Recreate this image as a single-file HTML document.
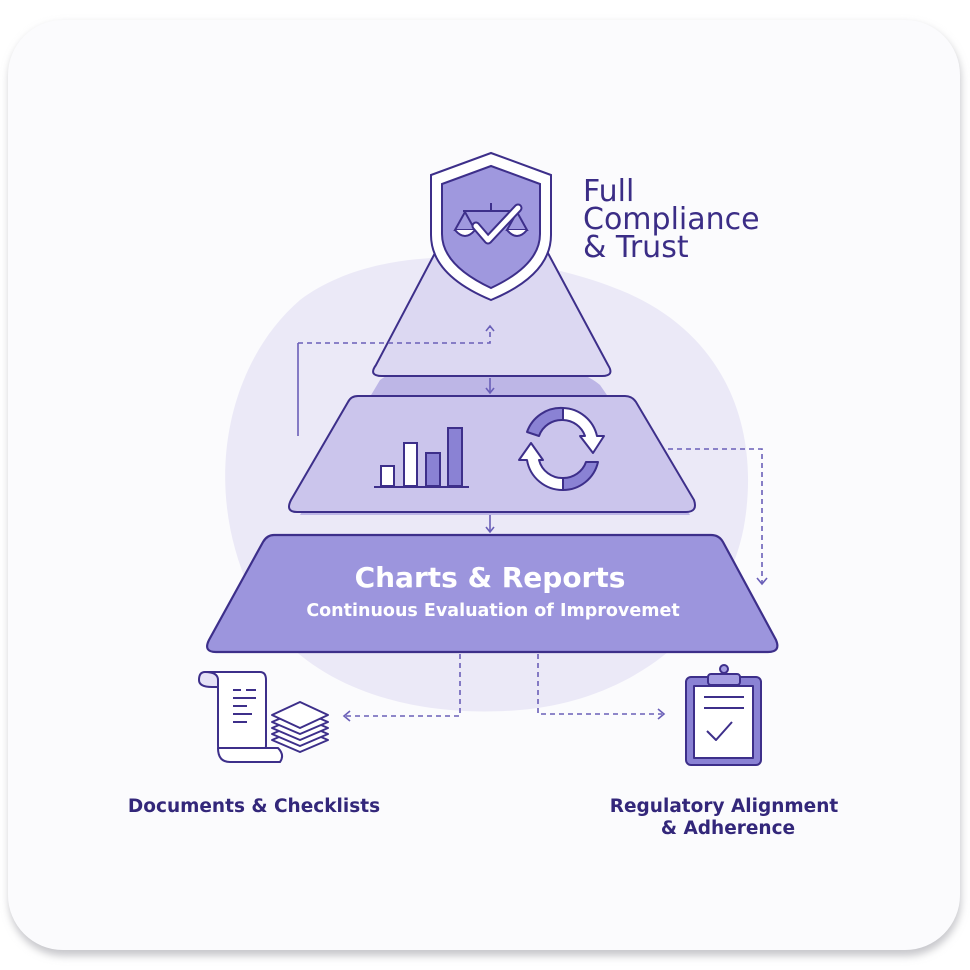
<!DOCTYPE html>
<html><head><meta charset="utf-8"><style>
html,body{margin:0;padding:0;background:#fff;width:970px;height:970px;overflow:hidden}
text{font-family:"DejaVu Sans","Liberation Sans",sans-serif}
</style></head><body>
<svg width="970" height="970" viewBox="0 0 970 970" xmlns="http://www.w3.org/2000/svg">
<defs>
<filter id="sh" x="-5%" y="-5%" width="110%" height="110%"><feGaussianBlur stdDeviation="4"/></filter>
</defs>
<rect x="9" y="24" width="952" height="932" rx="55" fill="#c8c8cc" filter="url(#sh)"/>
<rect x="8" y="20" width="952" height="930" rx="55" fill="#fbfbfd"/>
<!-- blob -->
<path d="M300,300 C380,240 520,250 620,290 C720,330 760,420 745,520 C730,620 640,700 520,710 C400,720 290,680 250,590 C200,480 230,360 300,300 Z" fill="#ebe9f7"/>
<path d="M380,380 C420,350 560,350 600,385 L690,515 L300,515 Z" fill="#bdb6e6"/>
<!-- top triangle -->
<path d="M484,160 Q491,150 498,160 L608,365 Q615,376 602,376 L382,376 Q368,376 376,365 Z" fill="#dcd8f2" stroke="#3d2f8a" stroke-width="2"/>
<!-- middle trapezoid -->
<path d="M358,396 L625,396 Q632,396 636,402 L694,500 Q698,512 686,512 L297,512 Q285,512 291,500 L348,402 Q351,396 358,396 Z" fill="#cbc5ec" stroke="#3d2f8a" stroke-width="2"/>
<!-- bottom trapezoid -->
<path d="M274,535 L711,535 Q719,535 723,542 L776,640 Q781,652 768,652 L216,652 Q203,652 209,640 L263,542 Q267,535 274,535 Z" fill="#9c95dd" stroke="#3d2f8a" stroke-width="2.2"/>
<text x="490" y="587" text-anchor="middle" font-size="28" font-weight="bold" fill="#fff">Charts &amp; Reports</text>
<text x="493" y="616" text-anchor="middle" font-size="17.5" font-weight="bold" fill="#fff">Continuous Evaluation of Improvemet</text>
<!-- shield -->
<path d="M491,153 L551,175 L551,235 Q551,275 491,300 Q431,275 431,235 L431,175 Z" fill="#fff" stroke="#3d2f8a" stroke-width="2"/>
<path d="M491,166 L540,184 L540,234 Q540,265 491,288 Q442,265 442,234 L442,184 Z" fill="#9f98de" stroke="#3d2f8a" stroke-width="2"/>
<g stroke="#3d2f8a" stroke-width="2" fill="none">
<line x1="491" y1="203" x2="491" y2="210"/>
<line x1="463" y1="211" x2="519" y2="211"/>
<path d="M465,212 L455,230 L475,230 Z"/><path d="M455,230 Q465,242 475,230" fill="#fff"/>
<path d="M517,212 L507,230 L527,230 Z"/><path d="M507,230 Q517,242 527,230" fill="#fff"/>
</g>
<path d="M476,226 L488,240 L518,208" stroke="#3d2f8a" stroke-width="9" fill="none" stroke-linecap="round" stroke-linejoin="round"/>
<path d="M476,226 L488,240 L518,208" stroke="#fff" stroke-width="5" fill="none" stroke-linecap="round" stroke-linejoin="round"/>
<text font-size="30" fill="#3b2d86"><tspan x="583" y="201">Full</tspan><tspan x="583" y="229">Compliance</tspan><tspan x="583" y="257">&amp; Trust</tspan></text>
<!-- bar chart -->
<g stroke="#3d2f8a" stroke-width="2">
<rect x="381" y="466" width="13" height="20" fill="#fff"/>
<rect x="404" y="443" width="13" height="43" fill="#fff"/>
<rect x="426" y="453" width="14" height="33" fill="#8a82d4"/>
<rect x="448" y="428" width="14" height="58" fill="#8a82d4"/>
<line x1="374" y1="487" x2="469" y2="487"/>
</g>
<!-- cycle -->
<g stroke="#3d2f8a" stroke-width="2" stroke-linejoin="round">
<path d="M527,432 A36,36 0 0 1 563,408 L563,420 A24,24 0 0 0 539,436 Z" fill="#8a82d4"/>
<path d="M563,408 A36,36 0 0 1 597,436 L604,436 L593,453 L580,436 L585,436 A24,24 0 0 0 563,420 Z" fill="#fff"/>
<path d="M598,462 A36,36 0 0 1 563,490 L563,478 A24,24 0 0 0 586,462 Z" fill="#8a82d4"/>
<path d="M563,490 A36,36 0 0 1 527,460 L519,460 L531,443 L543,460 L539,460 A24,24 0 0 0 563,478 Z" fill="#fff"/>
</g>
<!-- connectors -->
<g stroke="#6a5fb8" stroke-width="1.6" fill="none">
<line x1="298" y1="436" x2="298" y2="343"/>
<path d="M298,343 L490,343 L490,327" stroke-dasharray="5,4"/>
<path d="M486,331 L490,326 L494,331"/>
<line x1="490" y1="378" x2="490" y2="393"/><path d="M486,388 L490,393 L494,388"/>
<line x1="490" y1="515" x2="490" y2="532"/><path d="M486,527 L490,532 L494,527"/>
<path d="M668,449 L762,449 L762,584" stroke-dasharray="5,4"/><path d="M757,578 L762,584 L767,578"/>
<path d="M460,654 L460,716 L346,716" stroke-dasharray="5,4"/><path d="M350,711 L344,716 L350,721"/>
<path d="M538,654 L538,714 L662,714" stroke-dasharray="5,4"/><path d="M658,709 L664,714 L658,719"/>
</g>
<!-- document icon -->
<g stroke="#3d2f8a" stroke-width="2" fill="#fff" stroke-linejoin="round">
<path d="M205,672 L260,672 Q266,672 266,680 L266,745 Q266,757 258,757 L224,757 Q218,757 218,745 L218,688 Z"/>
<path d="M205,672 Q199,672 199,680 Q199,687 212,687 L218,687 L218,680 Q218,672 205,672 Z" fill="#e5e2f6"/>
<path d="M218,748 Q218,762 230,762 L280,762 Q285,755 278,748 Z"/>
<g fill="none"><line x1="233" y1="690" x2="241" y2="690"/><line x1="246" y1="690" x2="256" y2="690"/><line x1="233" y1="698" x2="256" y2="698"/><line x1="233" y1="706" x2="247" y2="706"/><line x1="233" y1="714" x2="252" y2="714"/><line x1="233" y1="722" x2="247" y2="722"/></g>
<path d="M272,740 L300,728 L328,740 L300,752 Z"/>
<path d="M272,734 L300,722 L328,734 L300,746 Z"/>
<path d="M272,728 L300,716 L328,728 L300,740 Z"/>
<path d="M272,722 L300,710 L328,722 L300,734 Z"/>
<path d="M272,715 L300,702 L328,715 L300,728 Z"/>
</g>
<!-- clipboard -->
<g stroke="#3d2f8a" stroke-width="2" stroke-linejoin="round">
<rect x="686" y="677" width="75" height="88" rx="5" fill="#8a82d4"/>
<rect x="694" y="686" width="59" height="72" fill="#fff"/>
<rect x="708" y="674" width="32" height="11" rx="3" fill="#a59ee2"/>
<circle cx="724" cy="669" r="4" fill="#a59ee2"/>
<g fill="none"><line x1="704" y1="697" x2="744" y2="697"/><line x1="704" y1="708" x2="744" y2="708"/><path d="M707,731 L716,740 L732,722"/></g>
</g>
<text x="254" y="812" text-anchor="middle" font-size="18.5" font-weight="bold" fill="#33277a">Documents &amp; Checklists</text>
<text x="724" y="812" text-anchor="middle" font-size="18.5" font-weight="bold" fill="#33277a">Regulatory Alignment</text>
<text x="728" y="834" text-anchor="middle" font-size="18.5" font-weight="bold" fill="#33277a">&amp; Adherence</text>
</svg>
</body></html>
